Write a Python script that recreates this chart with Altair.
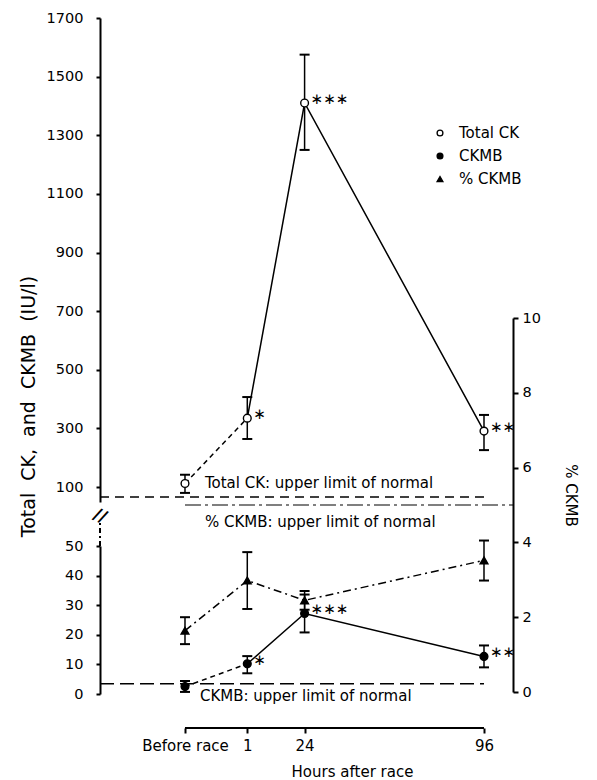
import altair as alt
import pandas as pd

# ---------------- data ----------------
hours = [-24, 1, 24, 96]
hour_labels = ["Before race", "1", "24", "96"]

total_ck = [112, 335, 1410, 291]
total_ck_lo = [80, 264, 1250, 226]
total_ck_hi = [142, 407, 1575, 346]
total_ck_sig = ["", "∗", "∗∗∗", "∗∗"]

ckmb = [2.5, 10.2, 27.2, 12.7]
ckmb_lo = [0.7, 7.0, 20.8, 9.0]
ckmb_hi = [4.4, 12.8, 33.6, 16.4]
ckmb_sig = ["", "∗", "∗∗∗", "∗∗"]

pct_ckmb = [1.64, 2.98, 2.45, 3.52]
pct_ckmb_lo = [1.28, 2.22, 2.2, 2.98]
pct_ckmb_hi = [2.0, 3.74, 2.7, 4.05]

series_names = ["Total CK", "CKMB", "% CKMB"]
limit_labels = ["Total CK: upper limit of normal",
                "% CKMB: upper limit of normal",
                "CKMB: upper limit of normal"]
limit_values = [66, 5, 3.5]

total_ticks = [100, 300, 500, 700, 900, 1100, 1300, 1500, 1700]
ckmb_ticks = [0, 10, 20, 30, 40, 50]
pct_ticks = [0, 2, 4, 6, 8, 10]

NB = "\u00a0"
left_title = f"Total{NB*2}CK,{NB*2}and{NB*2}CKMB{NB*2}(IU/l)"

# ---------------- layout ----------------
FONT = "DejaVu Sans"
W, H = 413, 710
X_DOM = [-58.11, 107.64]
TOTAL_DOM, TOTAL_RANGE = [49, 1700], [484, 0]
CKMB_DOM, CKMB_RANGE = [0, 50], [676, 528]
PCT_DOM, PCT_RANGE = [0, 10], [674, 300]
LEGEND_ROWS = [115, 161]

label_map = " : ".join(
    f"datum.value == {h} ? '{l}'" for h, l in zip(hours, hour_labels)
) + " : datum.label"

x_axis = alt.Axis(values=hours, labelExpr=label_map, domain=False, ticks=True,
                  tickSize=5, tickWidth=2, tickColor="black", grid=False,
                  labelFontSize=15, labelPadding=5, labelColor="black",
                  title="Hours after race", titleFontSize=15, titleFontWeight="normal",
                  titleX=252, titleY=43, titleAlign="center", titleBaseline="middle")


def X(field):
    return alt.X(f"{field}:Q", scale=alt.Scale(domain=X_DOM, nice=False, zero=False), axis=x_axis)


def X2(field):
    return alt.X2(f"{field}")


SCALES = {
    "total": alt.Scale(domain=TOTAL_DOM, range=TOTAL_RANGE, nice=False, zero=False),
    "ckmb": alt.Scale(domain=CKMB_DOM, range=CKMB_RANGE, nice=False, zero=False),
    "pct": alt.Scale(domain=PCT_DOM, range=PCT_RANGE, nice=False, zero=False),
}


def Y(field, kind, axis=None):
    return alt.Y(f"{field}:Q", scale=SCALES[kind], axis=axis)


common_axis = dict(domainWidth=2, domainColor="black", tickWidth=2, tickColor="black",
                   grid=False, labelFontSize=14.5, labelColor="black", format="d")

total_axis = alt.Axis(values=total_ticks, orient="left", tickSize=4, labelPadding=13,
                      title=left_title, titleFontSize=19,
                      titleFontWeight="normal", titleAngle=270, titleX=-72, titleY=388,
                      titleAlign="center", titleBaseline="middle", **common_axis)
ckmb_axis = alt.Axis(values=ckmb_ticks, orient="left", tickSize=4, labelPadding=13,
                     title="", **common_axis)
pct_axis = alt.Axis(values=pct_ticks, orient="right", tickSize=5, labelPadding=4,
                    title="% CKMB", titleFontSize=15, titleFontWeight="normal",
                    titleAngle=90, titleX=57, titleY=477, titleAlign="center",
                    titleBaseline="middle", **common_axis)

# ---------------- tables ----------------
df_total = pd.DataFrame({"hour": hours, "v": total_ck, "lo": total_ck_lo,
                         "hi": total_ck_hi, "sig": total_ck_sig, "series": series_names[0]})
df_ckmb = pd.DataFrame({"hour": hours, "v": ckmb, "lo": ckmb_lo,
                        "hi": ckmb_hi, "sig": ckmb_sig, "series": series_names[1]})
df_pct = pd.DataFrame({"hour": hours, "v": pct_ckmb, "lo": pct_ckmb_lo,
                       "hi": pct_ckmb_hi, "series": series_names[2]})

layers = []

# limit lines (carry the y axes)
lim_total = pd.DataFrame({"x": [X_DOM[0]], "x2": [hours[-1]], "y": [limit_values[0]]})
lim_pct = pd.DataFrame({"x": [hours[0]], "x2": [X_DOM[1]], "y": [limit_values[1]]})
lim_ckmb = pd.DataFrame({"x": [X_DOM[0]], "x2": [hours[-1]], "y": [limit_values[2]]})

layers.append(alt.Chart(lim_total).mark_rule(color="black", strokeWidth=1.5, strokeDash=[9, 6])
              .encode(x=X("x"), x2=X2("x2"), y=Y("y", "total", total_axis)))
layers.append(alt.Chart(lim_pct).mark_rule(color="black", strokeWidth=1.2, strokeDash=[16, 4, 3, 4])
              .encode(x=X("x"), x2=X2("x2"), y=Y("y", "pct", pct_axis)))
layers.append(alt.Chart(lim_ckmb).mark_rule(color="black", strokeWidth=1.5, strokeDash=[14, 6])
              .encode(x=X("x"), x2=X2("x2"), y=Y("y", "ckmb", ckmb_axis)))

# limit labels
txt_total = pd.DataFrame({"x": [-16], "y": [limit_values[0]], "t": [limit_labels[0]]})
txt_pct = pd.DataFrame({"x": [-16], "y": [limit_values[1]], "t": [limit_labels[1]]})
txt_ckmb = pd.DataFrame({"x": [-18], "y": [limit_values[2]], "t": [limit_labels[2]]})
for d, kind, dy in [(txt_total, "total", -14), (txt_pct, "pct", 17), (txt_ckmb, "ckmb", 12)]:
    layers.append(alt.Chart(d).mark_text(align="left", baseline="middle", dy=dy, fontSize=15,
                                         font=FONT, color="black")
                  .encode(x=X("x"), y=Y("y", kind), text="t:N"))

# x axis line (only between first and last time point)
xline = pd.DataFrame({"x": [hours[0]], "x2": [hours[-1]]})
layers.append(alt.Chart(xline).mark_rule(color="black", strokeWidth=2)
              .encode(x=X("x"), x2=X2("x2"), y=alt.value(H)))

# axis break and dash-dot extension of lower axis
ext = pd.DataFrame({"y": [50], "y2": [57.8]})
layers.append(alt.Chart(ext).mark_rule(color="black", strokeWidth=2, strokeDash=[5, 3, 2, 3])
              .encode(x=alt.value(0), y=Y("y", "ckmb"), y2=alt.Y2("y2")))
brk = pd.DataFrame({"t": ["//"]})
layers.append(alt.Chart(brk).mark_text(fontSize=17, fontWeight="bold", angle=25, font=FONT,
                                       color="black", align="center", baseline="middle")
              .encode(x=alt.value(0), y=alt.value(498), text="t:N"))

# connecting lines
layers.append(alt.Chart(df_total.iloc[:2]).mark_line(color="black", strokeWidth=1.5, strokeDash=[5, 4])
              .encode(x=X("hour"), y=Y("v", "total")))
layers.append(alt.Chart(df_total.iloc[1:]).mark_line(color="black", strokeWidth=1.5)
              .encode(x=X("hour"), y=Y("v", "total")))
layers.append(alt.Chart(df_ckmb.iloc[:2]).mark_line(color="black", strokeWidth=1.5, strokeDash=[5, 4])
              .encode(x=X("hour"), y=Y("v", "ckmb")))
layers.append(alt.Chart(df_ckmb.iloc[1:]).mark_line(color="black", strokeWidth=1.5)
              .encode(x=X("hour"), y=Y("v", "ckmb")))
layers.append(alt.Chart(df_pct).mark_line(color="black", strokeWidth=1.5, strokeDash=[8, 4, 2, 4])
              .encode(x=X("hour"), y=Y("v", "pct")))

# error bars
for d, kind in [(df_total, "total"), (df_ckmb, "ckmb"), (df_pct, "pct")]:
    layers.append(alt.Chart(d).mark_rule(color="black", strokeWidth=1.5)
                  .encode(x=X("hour"), y=Y("lo", kind), y2=alt.Y2("hi")))
    layers.append(alt.Chart(d).transform_fold(["lo", "hi"], as_=["end", "ev"])
                  .mark_tick(orient="horizontal", size=10, thickness=2, color="black", opacity=1)
                  .encode(x=X("hour"), y=Y("ev", kind)))

# points
shape_enc = alt.Shape("series:N", scale=alt.Scale(domain=series_names,
                                                  range=["circle", "circle", "triangle-up"]),
                      legend=None)
fill_enc = alt.Fill("series:N", scale=alt.Scale(domain=series_names,
                                                range=["white", "black", "black"]),
                    legend=None)
for d, kind in [(df_total, "total"), (df_ckmb, "ckmb"), (df_pct, "pct")]:
    layers.append(alt.Chart(d).mark_point(filled=False, color="black", strokeWidth=1.4,
                                          size=60, opacity=1)
                  .encode(x=X("hour"), y=Y("v", kind), shape=shape_enc, fill=fill_enc))

# significance marks
for d, kind in [(df_total, "total"), (df_ckmb, "ckmb")]:
    layers.append(alt.Chart(d).mark_text(align="left", baseline="middle", dx=6, dy=-4,
                                         fontSize=15, font=FONT, color="black")
                  .encode(x=X("hour"), y=Y("v", kind), text="sig:N"))

# hand-built legend
leg = pd.DataFrame({"series": series_names})
leg_y = alt.Y("series:N", scale=alt.Scale(domain=series_names, range=LEGEND_ROWS, padding=0),
              axis=None)
layers.append(alt.Chart(leg).mark_point(filled=False, color="black", strokeWidth=1.3,
                                        size=34, opacity=1)
              .encode(x=alt.value(340), y=leg_y, shape=shape_enc, fill=fill_enc))
layers.append(alt.Chart(leg).mark_text(align="left", baseline="middle", fontSize=15,
                                       font=FONT, color="black")
              .encode(x=alt.value(359), y=leg_y, text="series:N"))

chart = (
    alt.layer(*layers)
    .resolve_scale(y="independent")
    .properties(width=W, height=H,
                autosize=alt.AutoSizeParams(type="none"),
                padding={"left": 92, "top": 10, "right": 70, "bottom": 54})
    .configure_view(strokeWidth=0)
    .configure_axis(labelFont=FONT, titleFont=FONT)
)

chart.save("out.html", embed_options={"renderer": "svg", "actions": False})
